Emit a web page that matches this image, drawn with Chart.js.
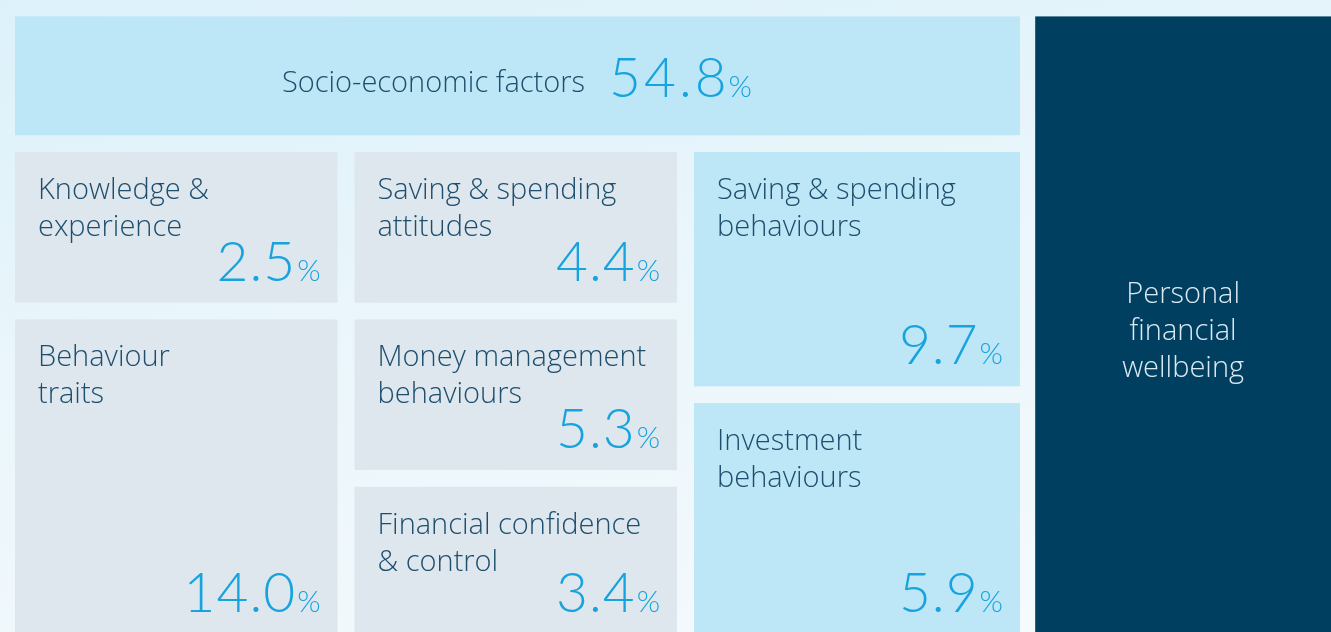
<!DOCTYPE html>
<html>
<head>
<meta charset="utf-8">
<script src="https://cdn.jsdelivr.net/npm/chart.js@4.4.1/dist/chart.umd.min.js"></script>
<style>
  html, body { margin: 0; padding: 0; width: 1331px; height: 632px; overflow: hidden; }
  body { background: linear-gradient(170deg, #dcf1fa 0%, #eaf6fb 45%, #f6fafd 100%); }
  #wrap { position: relative; width: 1331px; height: 632px; }
</style>
</head>
<body>
<div id="wrap"><canvas id="drivers" width="1331" height="632"></canvas></div>
<script>
// Drivers of personal financial wellbeing (share of explained variance)
const tileNames = [
    ['Socio-economic factors'],
    ['Knowledge &', 'experience'],
    ['Behaviour', 'traits'],
    ['Saving & spending', 'attitudes'],
    ['Money management', 'behaviours'],
    ['Financial confidence', '& control'],
    ['Saving & spending', 'behaviours'],
    ['Investment', 'behaviours'],
    ['Personal', 'financial', 'wellbeing']
];
const tileShares = [54.8, 2.5, 14.0, 4.4, 5.3, 3.4, 9.7, 5.9, null];
const tileKinds = ['context', 'trait', 'trait', 'trait', 'trait', 'trait', 'action', 'action', 'outcome'];

// grid layout (column units / row units)
const tileCols = [[0, 2.96], [0, 0.95], [0, 0.95], [1, 1.95], [1, 1.95], [1, 1.95], [2, 2.96], [2, 2.96], [3.005, 4]];
const tileRows = [[-0.81, -0.1], [0, 0.9], [1, 2.88], [0, 0.9], [1, 1.9], [2, 2.88], [0, 1.4], [1.5, 2.88], [-0.81, 2.88]];

const kindFill = { context: '#bde6f6', trait: '#dee6ee', action: '#bde6f6', outcome: '#003f5f' };
const LABEL_FONT = '"Open Sans", "Noto Sans", sans-serif';
const NUM_FONT = 'Lato, "Open Sans", sans-serif';
const labelColor = '#1d4e6d';
const numColor = '#17a4de';

const tilePlugin = {
    id: 'tiles',
    beforeDatasetsDraw(chart) {
        const ctx = chart.ctx;
        const xs = chart.scales.x, ys = chart.scales.y;
        const area = chart.chartArea;

        tileNames.forEach((lines, i) => {
            const left = xs.getPixelForValue(tileCols[i][0]);
            const right = xs.getPixelForValue(tileCols[i][1]);
            const top = ys.getPixelForValue(tileRows[i][0]);
            const bottom = ys.getPixelForValue(tileRows[i][1]);
            const kind = tileKinds[i];

            ctx.save();
            ctx.fillStyle = kindFill[kind];
            ctx.fillRect(left, top, right - left, bottom - top);

            const value = tileShares[i];
            if (kind === 'outcome') {
                // centred caption in the visible part of the dark column
                const cx = (left + Math.min(right, area.right)) / 2;
                const cy = (top + Math.min(bottom, area.bottom)) / 2 + 8;
                ctx.fillStyle = '#dbe9f2';
                ctx.font = '300 29px ' + LABEL_FONT;
                ctx.textAlign = 'center';
                ctx.textBaseline = 'middle';
                lines.forEach((t, k) => ctx.fillText(t, cx, cy + (k - (lines.length - 1) / 2) * 37));
            } else if (kind === 'context') {
                // label and value on one centred line
                const cx = (left + right) / 2;
                const cy = (top + bottom) / 2;
                const num = value.toFixed(1);
                ctx.textBaseline = 'alphabetic';
                ctx.textAlign = 'left';
                ctx.font = '300 29px ' + LABEL_FONT;
                const lw = ctx.measureText(lines[0]).width;
                ctx.letterSpacing = '3px';
                ctx.font = '300 55px ' + NUM_FONT;
                const nw = ctx.measureText(num).width;
                ctx.letterSpacing = '0px';
                ctx.font = '300 30px ' + NUM_FONT;
                const pw = ctx.measureText('%').width;
                const gap = 24;
                let x = cx - (lw + gap + nw + pw) / 2;
                ctx.fillStyle = labelColor;
                ctx.font = '300 29px ' + LABEL_FONT;
                ctx.fillText(lines[0], x, cy + 16);
                x += lw + gap;
                ctx.fillStyle = numColor;
                ctx.letterSpacing = '3px';
                ctx.font = '300 55px ' + NUM_FONT;
                ctx.fillText(num, x, cy + 21);
                ctx.letterSpacing = '0px';
                x += nw;
                ctx.font = '300 30px ' + NUM_FONT;
                ctx.fillText('%', x - 1, cy + 21);
            } else {
                ctx.fillStyle = labelColor;
                ctx.font = '300 29px ' + LABEL_FONT;
                ctx.textAlign = 'left';
                ctx.textBaseline = 'alphabetic';
                lines.forEach((t, k) => ctx.fillText(t, left + 23, top + 47 + k * 37));

                const num = value.toFixed(1);
                ctx.fillStyle = numColor;
                ctx.textAlign = 'right';
                ctx.font = '300 30px ' + NUM_FONT;
                const pw = ctx.measureText('%').width;
                ctx.fillText('%', right - 17, bottom - 22);
                ctx.letterSpacing = '1px';
                ctx.font = '300 55px ' + NUM_FONT;
                ctx.fillText(num, right - 17 - pw - 1, bottom - 22);
                ctx.letterSpacing = '0px';
            }
            ctx.restore();
        });
    }
};

new Chart(document.getElementById('drivers'), {
    type: 'scatter',
    data: {
        datasets: [{
            label: 'Drivers',
            data: tileNames.map((n, i) => ({
                x: (tileCols[i][0] + tileCols[i][1]) / 2,
                y: (tileRows[i][0] + tileRows[i][1]) / 2
            })),
            pointRadius: 0,
            pointHoverRadius: 0
        }]
    },
    options: {
        responsive: false,
        animation: false,
        layout: { padding: 0 },
        plugins: {
            legend: { display: false },
            tooltip: { enabled: false }
        },
        scales: {
            x: { type: 'linear', display: false, min: -15 / 339.5, max: 1316 / 339.5 },
            y: { type: 'linear', display: false, reverse: true, min: -152 / 167.4, max: 480 / 167.4 }
        }
    },
    plugins: [tilePlugin]
});
</script>
</body>
</html>
